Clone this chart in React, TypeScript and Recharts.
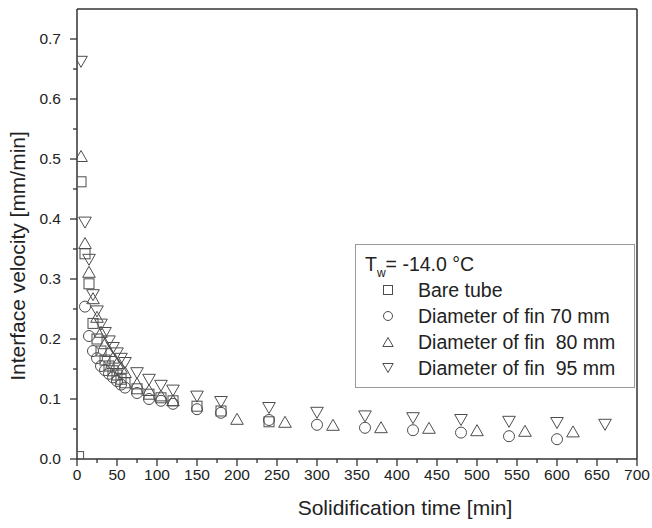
import React from "react";
import { ScatterChart, Scatter, XAxis, YAxis, ReferenceLine, Legend, Label } from "recharts";

// solidification time [min] / interface velocity [mm/min]
const bareTubeTime = [2, 5, 10, 15, 20, 25, 30, 35, 40, 45, 50, 55, 60, 75, 90, 105, 120, 150, 180, 240];
const bareTubeVel = [0.004, 0.462, 0.342, 0.292, 0.226, 0.2, 0.18, 0.165, 0.155, 0.147, 0.14, 0.133, 0.127, 0.117, 0.108, 0.102, 0.097, 0.088, 0.08, 0.062];

const fin70Time = [10, 15, 20, 25, 30, 35, 40, 45, 50, 55, 60, 75, 90, 105, 120, 150, 180, 240, 300, 360, 420, 480, 540, 600];
const fin70Vel = [0.254, 0.205, 0.18, 0.168, 0.155, 0.148, 0.142, 0.136, 0.13, 0.124, 0.119, 0.11, 0.1, 0.097, 0.092, 0.083, 0.077, 0.065, 0.057, 0.052, 0.048, 0.044, 0.038, 0.033];

const fin80Time = [5, 10, 15, 20, 25, 30, 35, 40, 45, 50, 55, 60, 75, 90, 105, 120, 200, 260, 320, 380, 440, 500, 560, 620];
const fin80Vel = [0.505, 0.36, 0.312, 0.268, 0.237, 0.212, 0.193, 0.18, 0.169, 0.16, 0.152, 0.145, 0.126, 0.115, 0.106, 0.098, 0.067, 0.062, 0.057, 0.053, 0.052, 0.048, 0.047, 0.046];

const fin95Time = [5, 10, 15, 20, 25, 30, 35, 40, 45, 50, 55, 60, 75, 90, 105, 120, 150, 180, 240, 300, 360, 420, 480, 540, 600, 660];
const fin95Vel = [0.662, 0.394, 0.332, 0.273, 0.246, 0.224, 0.21, 0.196, 0.185, 0.176, 0.167, 0.16, 0.143, 0.132, 0.122, 0.114, 0.104, 0.095, 0.085, 0.077, 0.071, 0.068, 0.065, 0.062, 0.06, 0.057];

const xTicks = [0, 25, 50, 75, 100, 125, 150, 175, 200, 225, 250, 275, 300, 325, 350, 375, 400, 425, 450, 475, 500, 525, 550, 575, 600, 625, 650, 675, 700];
const yTicks = [0, 0.05, 0.1, 0.15, 0.2, 0.25, 0.3, 0.35, 0.4, 0.45, 0.5, 0.55, 0.6, 0.65, 0.7];

const FONT = "'Liberation Sans', Arial, Helvetica, sans-serif";
const INK = "#222";
const AXIS = "#333";
const MARK = "#4d4d4d";

type Kind = "square" | "circle" | "up" | "down";

const toPoints = (xs: number[], ys: number[]) => xs.map((x, i) => ({ x, y: ys[i] }));

function Marker({ kind, cx, cy, size }: { kind: Kind; cx: number; cy: number; size: number }) {
  const common = { fill: "none", stroke: MARK, strokeWidth: 1 };
  if (kind === "square") {
    return <rect x={cx - size / 2} y={cy - size / 2} width={size} height={size} {...common} />;
  }
  if (kind === "circle") {
    return <circle cx={cx} cy={cy} r={size / 2} {...common} />;
  }
  const w = size * 1.15;
  const h = size;
  const pts =
    kind === "up"
      ? `${cx},${cy - h / 2} ${cx - w / 2},${cy + h / 2} ${cx + w / 2},${cy + h / 2}`
      : `${cx},${cy + h / 2} ${cx - w / 2},${cy - h / 2} ${cx + w / 2},${cy - h / 2}`;
  return <polygon points={pts} {...common} />;
}

const shapeOf = (kind: Kind) => (p: any) => <Marker kind={kind} cx={p.cx} cy={p.cy} size={kind === "square" ? 10 : 11} />;

function XTick({ x, y, payload }: any) {
  const major = payload.value % 50 === 0;
  return (
    <g>
      <line x1={x} y1={y} x2={x} y2={y + (major ? 7 : 4)} stroke={AXIS} strokeWidth={1.3} />
      {major && (
        <text x={x} y={y + 10} dy="0.71em" textAnchor="middle" fontSize={15.5} fill={INK} fontFamily={FONT}>
          {payload.value}
        </text>
      )}
    </g>
  );
}

function YTick({ x, y, payload }: any) {
  const major = Math.round(payload.value * 100) % 10 === 0;
  return (
    <g>
      <line x1={x} y1={y} x2={x - (major ? 7 : 4)} y2={y} stroke={AXIS} strokeWidth={1.3} />
      {major && (
        <text x={x - 16} y={y} dy="0.35em" textAnchor="end" fontSize={15.5} fill={INK} fontFamily={FONT}>
          {payload.value.toFixed(1)}
        </text>
      )}
    </g>
  );
}

const legendRows: { kind: Kind; label: string }[] = [
  { kind: "square", label: "Bare tube" },
  { kind: "circle", label: "Diameter of fin 70 mm" },
  { kind: "up", label: "Diameter of fin\u00a0 80 mm" },
  { kind: "down", label: "Diameter of fin\u00a0 95 mm" },
];

function LegendBox() {
  return (
    <div
      style={{
        border: "1px solid #9a9a9a",
        background: "#fff",
        padding: "6px 0 6px 9px",
        fontFamily: FONT,
        color: INK,
        fontSize: 19.5,
        lineHeight: "26px",
        boxSizing: "border-box",
        width: 280,
      }}
    >
      <div>
        T<sub style={{ fontSize: 12, verticalAlign: "-6px", lineHeight: 0 }}>w</sub>= -14.0 °C
      </div>
      {legendRows.map((r) => (
        <div key={r.label} style={{ display: "flex", alignItems: "center" }}>
          <svg width={44} height={26} style={{ flex: "none" }}>
            <Marker kind={r.kind} cx={23} cy={13} size={9} />
          </svg>
          <span style={{ marginLeft: 9 }}>{r.label}</span>
        </div>
      ))}
    </div>
  );
}

export default function App() {
  return (
    <div style={{ position: "absolute", left: 0, top: 0, width: 652, height: 528, background: "#fff" }}>
      <ScatterChart width={652} height={528} margin={{ top: 9, right: 15, bottom: 19, left: 17 }}>
        <XAxis
          type="number"
          dataKey="x"
          domain={[0, 700]}
          ticks={xTicks}
          interval={0}
          allowDataOverflow
          tickLine={false}
          tickSize={0}
          tickMargin={0}
          tick={<XTick />}
          height={50}
          axisLine={{ stroke: AXIS, strokeWidth: 1.5 }}
        >
          <Label
            content={() => (
              <text x={405} y={508} dy="0.35em" textAnchor="middle" fontSize={21} fill={INK} fontFamily={FONT}>
                Solidification time [min]
              </text>
            )}
          />
        </XAxis>
        <YAxis
          type="number"
          dataKey="y"
          domain={[0, 0.75]}
          ticks={yTicks}
          interval={0}
          allowDataOverflow
          tickLine={false}
          tickSize={0}
          tickMargin={0}
          tick={<YTick />}
          width={60}
          axisLine={{ stroke: AXIS, strokeWidth: 1.5 }}
        >
          <Label
            content={() => (
              <text
                transform="translate(18,256) rotate(-90)"
                dy="0.35em"
                textAnchor="middle"
                fontSize={21}
                fill={INK}
                fontFamily={FONT}
              >
                Interface velocity [mm/min]
              </text>
            )}
          />
        </YAxis>
        <ReferenceLine y={0.75} stroke={AXIS} strokeWidth={1.5} />
        <ReferenceLine x={700} stroke={AXIS} strokeWidth={1.5} />
        <Scatter name="Bare tube" data={toPoints(bareTubeTime, bareTubeVel)} shape={shapeOf("square")} isAnimationActive={false} />
        <Scatter name="Diameter of fin 70 mm" data={toPoints(fin70Time, fin70Vel)} shape={shapeOf("circle")} isAnimationActive={false} />
        <Scatter name="Diameter of fin 80 mm" data={toPoints(fin80Time, fin80Vel)} shape={shapeOf("up")} isAnimationActive={false} />
        <Scatter name="Diameter of fin 95 mm" data={toPoints(fin95Time, fin95Vel)} shape={shapeOf("down")} isAnimationActive={false} />
        <Legend
          content={<LegendBox />}
          layout="vertical"
          align="center"
          verticalAlign="middle"
          wrapperStyle={{ left: 355, top: 244, width: 280, height: "auto" }}
        />
      </ScatterChart>
    </div>
  );
}
